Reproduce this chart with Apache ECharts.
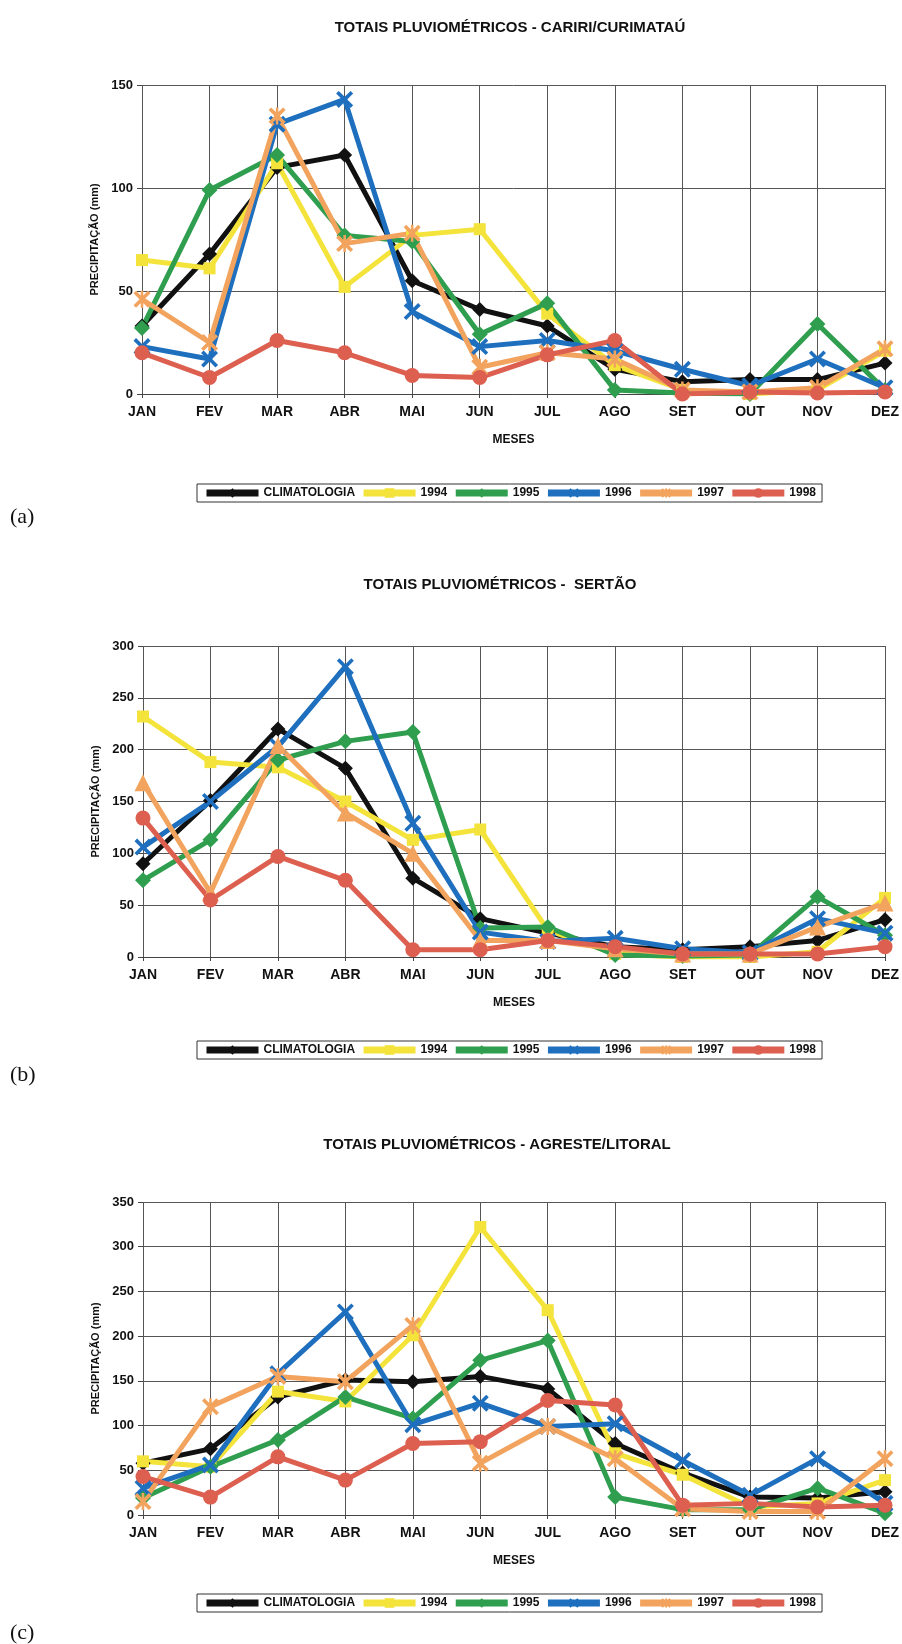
<!DOCTYPE html>
<html><head><meta charset="utf-8">
<script src="https://cdn.jsdelivr.net/npm/echarts@6/dist/echarts.min.js"></script>
<style>html,body{margin:0;padding:0;background:#fff}#c{width:902px;height:1644px}</style>
</head><body><div id="c"></div>
<script>
// ---------- DATA ----------
const months = ['JAN','FEV','MAR','ABR','MAI','JUN','JUL','AGO','SET','OUT','NOV','DEZ'];
const seriesNames = ['CLIMATOLOGIA','1994','1995','1996','1997','1998'];
const chartTitles = ['TOTAIS PLUVIOMÉTRICOS - CARIRI/CURIMATAÚ','TOTAIS PLUVIOMÉTRICOS -  SERTÃO','TOTAIS PLUVIOMÉTRICOS - AGRESTE/LITORAL'];
const panelLabels = ['(a)','(b)','(c)'];
const yMax = [150, 300, 350];
const yInterval = [50, 50, 50];

// (a) Cariri/Curimataú
const caririClim = [33, 68, 110, 116, 55, 41, 33, 12, 6, 7, 7, 15];
const cariri1994 = [65, 61, 112, 52, 77, 80, 39, 14, 2, 0, 2, 21];
const cariri1995 = [32, 99, 116, 77, 74, 29, 44, 2, 0.5, 0, 34, 2];
const cariri1996 = [23, 17, 131, 143, 40, 23, 26, 21, 12, 4, 17, 3];
const cariri1997 = [46, 25, 135, 73, 78, 13, 20, 17, 2, 1, 3, 22];
const cariri1998 = [20, 8, 26, 20, 9, 8, 19, 26, 0, 1, 0.5, 1];

// (b) Sertão
const sertaoClim = [90, 151, 220, 182, 76, 37, 23, 10, 7, 10, 16, 36];
const sertao1994 = [232, 188, 183, 150, 113, 123, 26, 3, 0, 0, 5, 57];
const sertao1995 = [74, 113, 190, 208, 217, 28, 29, 2, 1, 2, 58, 21];
const sertao1996 = [106, 150, 203, 280, 129, 24, 15, 18, 8, 4, 37, 23];
const sertao1997 = [168, 62, 204, 139, 100, 16, 16, 8, 3, 3, 29, 52];
const sertao1998 = [134, 55, 97, 74, 7, 7, 16, 10, 3, 3, 3, 10];

// (c) Agreste/Litoral
const agresteClim = [58, 74, 132, 151, 149, 155, 141, 80, 47, 20, 19, 26];
const agreste1994 = [60, 54, 138, 127, 201, 322, 229, 69, 45, 9, 13, 39];
const agreste1995 = [19, 54, 84, 132, 108, 173, 195, 20, 6, 6, 30, 2];
const agreste1996 = [30, 56, 158, 227, 101, 125, 99, 102, 61, 22, 63, 13];
const agreste1997 = [15, 121, 155, 149, 212, 58, 99, 63, 7, 4, 4, 63];
const agreste1998 = [43, 20, 65, 39, 80, 82, 128, 123, 11, 13, 9, 11];

const panels = [
  [caririClim, cariri1994, cariri1995, cariri1996, cariri1997, cariri1998],
  [sertaoClim, sertao1994, sertao1995, sertao1996, sertao1997, sertao1998],
  [agresteClim, agreste1994, agreste1995, agreste1996, agreste1997, agreste1998]
];

// ---------- STYLE ----------
const colors = ['#111111','#f3e33a','#2f9e4f','#1f6fbf','#f2a35e','#dd5f50'];
const X_SYM = 'path://M0,3 L3,0 L10,7 L17,0 L20,3 L13,10 L20,17 L17,20 L10,13 L3,20 L0,17 L7,10 Z';
const STAR_SYM = 'path://M0,3 L3,0 L10,7 L17,0 L20,3 L13,10 L20,17 L17,20 L10,13 L3,20 L0,17 L7,10 Z M8.5,0 L11.5,0 L11.5,20 L8.5,20 Z';
const symbolsByPanel = [
  ['diamond','rect','diamond',X_SYM,STAR_SYM,'circle'],
  ['diamond','rect','diamond',X_SYM,'triangle','circle'],
  ['diamond','rect','diamond',X_SYM,STAR_SYM,'circle']
];
const symbolSizes = [15, 12, 16, 17, 17, 15];

const grids = [
  {left: 142, top: 85, width: 743, height: 309},
  {left: 143, top: 646, width: 742, height: 311},
  {left: 143, top: 1202, width: 742, height: 313}
];
const titlePos = [[510, 28], [500, 585], [497, 1145]];
const legendTop = [484, 1041, 1594];
const panelLabelY = [517, 1075, 1633];

const FONT = 'Liberation Sans, Arial, sans-serif';
const gridColor = '#555';

const xAxes = grids.map((g, i) => ({
  gridIndex: i, type: 'category', data: months, boundaryGap: false,
  axisLine: {lineStyle: {color: '#444', width: 1}},
  axisTick: {show: true, length: 4, lineStyle: {color: '#444'}},
  axisLabel: {fontFamily: FONT, fontWeight: 'bold', fontSize: 14, color: '#111', margin: 11},
  splitLine: {show: true, lineStyle: {color: gridColor, width: 1}},
  name: 'MESES', nameLocation: 'middle', nameGap: 40,
  nameTextStyle: {fontFamily: FONT, fontWeight: 'bold', fontSize: 12, color: '#111'}
}));
const yAxes = grids.map((g, i) => ({
  gridIndex: i, type: 'value', min: 0, max: yMax[i], interval: yInterval[i],
  axisLine: {show: false},
  axisTick: {show: true, length: 5, lineStyle: {color: '#444'}},
  axisLabel: {fontFamily: FONT, fontWeight: 'bold', fontSize: 13, color: '#111', margin: 9},
  splitLine: {show: true, lineStyle: {color: gridColor, width: 1}},
  name: 'PRECIPITAÇÃO (mm)', nameLocation: 'middle', nameGap: 40,
  nameTextStyle: {fontFamily: FONT, fontWeight: 'bold', fontSize: 11, color: '#111'}
}));

const series = [];
panels.forEach((arrs, p) => {
  arrs.forEach((data, s) => {
    series.push({
      name: seriesNames[s], type: 'line', xAxisIndex: p, yAxisIndex: p,
      data: data, symbol: symbolsByPanel[p][s], symbolSize: symbolSizes[s],
      showAllSymbol: true, animation: false,
      lineStyle: {color: colors[s], width: 5},
      itemStyle: {color: colors[s]},
      emphasis: {disabled: true}
    });
  });
});

const legends = legendTop.map(t => ({
  data: seriesNames, left: 197, top: t, orient: 'horizontal',
  itemWidth: 52, itemHeight: 12, itemGap: 5,
  lineStyle: {width: 7},
  borderColor: '#333', borderWidth: 1, padding: [3, 6, 3, 6],
  textStyle: {fontFamily: FONT, fontWeight: 'bold', fontSize: 12, color: '#111'},
  selectedMode: false
}));

const graphics = [];
chartTitles.forEach((t, i) => {
  graphics.push({type: 'text', x: titlePos[i][0], y: titlePos[i][1],
    style: {text: t, font: 'bold 15px ' + FONT, fill: '#111',
      textAlign: 'center', textVerticalAlign: 'middle', align: 'center', verticalAlign: 'middle'}});
});
panelLabels.forEach((t, i) => {
  graphics.push({type: 'text', x: 10, y: panelLabelY[i],
    style: {text: t, font: '22px Liberation Serif, Times New Roman, serif', fill: '#111',
      textAlign: 'left', textVerticalAlign: 'middle', align: 'left', verticalAlign: 'middle'}});
});

const chart = echarts.init(document.getElementById('c'), null, {renderer: 'canvas'});
chart.setOption({
  backgroundColor: '#ffffff',
  animation: false,
  grid: grids,
  xAxis: xAxes,
  yAxis: yAxes,
  legend: legends,
  series: series,
  graphic: graphics
});
</script></body></html>
